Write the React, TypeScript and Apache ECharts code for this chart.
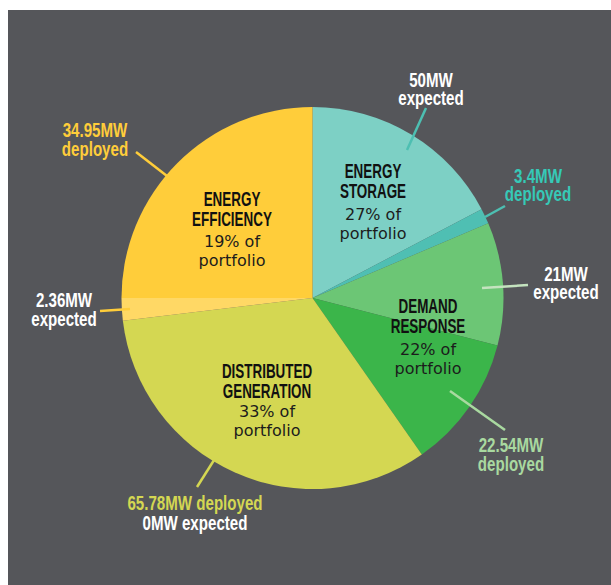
import React, { useEffect, useRef } from "react";
import * as echarts from "echarts";

// Slices, clockwise from 12 o'clock (shares in % of the drawn circle)
const sliceNames = [
  "Energy Storage – expected",
  "Energy Storage – deployed",
  "Demand Response – expected",
  "Demand Response – deployed",
  "Distributed Generation – deployed",
  "Energy Efficiency – expected",
  "Energy Efficiency – deployed",
];
const sliceShares = [17.3, 1.3, 10.4, 11.3, 32.8, 1.9, 25.0];
const sliceColors = ["#7dd0c5", "#4fbfb3", "#6cc675", "#3bb54a", "#d4d752", "#ffd865", "#ffcd3a"];

// Group labels inside the pie
const groupTitles = [
  ["ENERGY", "STORAGE"],
  ["DEMAND", "RESPONSE"],
  ["DISTRIBUTED", "GENERATION"],
  ["ENERGY", "EFFICIENCY"],
];
const portfolioPct = [27, 22, 33, 19];

// Outer MW annotations
const mwTexts = [
  ["50MW", "expected"],
  ["3.4MW", "deployed"],
  ["21MW", "expected"],
  ["22.54MW", "deployed"],
  ["65.78MW deployed", "0MW expected"],
  ["34.95MW", "deployed"],
  ["2.36MW", "expected"],
];
const mwTextColors = [
  ["#ffffff", "#ffffff"],
  ["#36c9b7", "#36c9b7"],
  ["#ffffff", "#ffffff"],
  ["#a9d9a0", "#a9d9a0"],
  ["#d4d752", "#ffffff"],
  ["#ffcd3a", "#ffcd3a"],
  ["#ffffff", "#ffffff"],
];
const mwLineColors = ["#4dbfb2", "#4dbfb2", "#c4e3bf", "#a9d9a0", "#d4d752", "#ffcd3a", "#ffcd3a"];

const OX = 8;
const OY = 10;
const CONDENSED = '"Liberation Sans Narrow", "Liberation Sans", Arial, sans-serif';

export default function App() {
  const ref = useRef<HTMLDivElement>(null);

  useEffect(() => {
    if (!ref.current) return;
    const chart = echarts.init(ref.current, undefined, { renderer: "svg" });

    // layout (page coordinates): centre x, centre y of the title block, centre y of the % block
    const groupPos = [
      { x: 373, yt: 180.5, yp: 224 },
      { x: 428, yt: 316, yp: 359 },
      { x: 267, yt: 380.5, yp: 421 },
      { x: 232, yt: 208.5, yp: 251 },
    ];
    const mwPos = [
      { x: 431, y: [79.5, 97.5] },
      { x: 538, y: [175.5, 194] },
      { x: 566, y: [273.5, 292] },
      { x: 511, y: [445, 464] },
      { x: 195, y: [503, 523] },
      { x: 95, y: [130, 149] },
      { x: 64, y: [300, 318.5] },
    ];
    const mwLines = [
      [407, 150, 426, 108],
      [485, 217, 505, 206],
      [482, 288, 528, 285],
      [450, 391, 505, 430],
      [197, 487, 228, 438],
      [136, 152, 167, 176],
      [100, 311, 130, 309],
    ];

    const graphics: any[] = [];
    groupTitles.forEach((lines, i) => {
      const p = groupPos[i];
      graphics.push({
        type: "text",
        z: 100,
        x: p.x - OX,
        y: p.yt - OY,
        scaleX: 0.64,
        style: {
          text: lines.join("\n"),
          fill: "#111111",
          fontSize: 21,
          lineHeight: 20,
          fontWeight: "bold",
          fontFamily: CONDENSED,
          align: "center",
          verticalAlign: "middle",
        },
      });
      graphics.push({
        type: "text",
        z: 100,
        x: p.x - OX,
        y: p.yp - OY,
        style: {
          text: `${portfolioPct[i]}% of\nportfolio`,
          fill: "#1c1c1c",
          fontSize: 16,
          lineHeight: 18.8,
          fontFamily: '"DejaVu Sans", sans-serif',
          align: "center",
          verticalAlign: "middle",
        },
      });
    });
    mwLines.forEach((l, i) => {
      graphics.push({
        type: "line",
        z: 90,
        shape: { x1: l[0] - OX, y1: l[1] - OY, x2: l[2] - OX, y2: l[3] - OY },
        style: { stroke: mwLineColors[i], lineWidth: 2.5 },
      });
    });
    mwTexts.forEach((lines, i) => {
      const p = mwPos[i];
      lines.forEach((t, j) => {
        graphics.push({
          type: "text",
          z: 100,
          x: p.x - OX,
          y: p.y[j] - OY,
          scaleX: 0.72,
          style: {
            text: t,
            fill: mwTextColors[i][j],
            fontSize: 21,
            fontWeight: "bold",
            fontFamily: CONDENSED,
            align: "center",
            verticalAlign: "middle",
          },
        });
      });
    });

    chart.setOption({
      animation: false,
      backgroundColor: "#55565a",
      series: [
        {
          type: "pie",
          z: 2,
          center: [312.5 - OX, 298 - OY],
          radius: 191,
          startAngle: 90,
          clockwise: true,
          avoidLabelOverlap: false,
          label: { show: false },
          labelLine: { show: false },
          emphasis: { disabled: true },
          itemStyle: { borderWidth: 0 },
          data: sliceNames.map((n, i) => ({
            name: n,
            value: sliceShares[i],
            itemStyle: { color: sliceColors[i] },
          })),
        },
      ],
      graphic: { elements: graphics },
    });

    return () => chart.dispose();
  }, []);

  return (
    <div
      ref={ref}
      style={{ position: "fixed", left: OX, top: OY, width: 611 - OX, height: 585 - OY }}
    />
  );
}
